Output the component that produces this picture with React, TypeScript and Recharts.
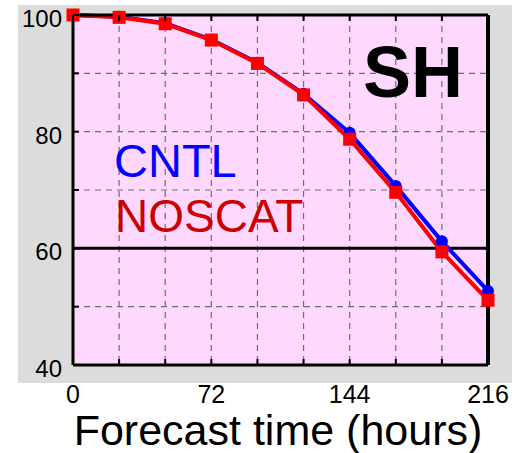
import React from 'react';
import { LineChart, Line, XAxis, YAxis, CartesianGrid, ReferenceLine } from 'recharts';

const hours = [0, 24, 48, 72, 96, 120, 144, 168, 192, 216];
const cntl = [100, 99.7, 98.6, 95.8, 91.8, 86.5, 79.8, 70.7, 61.2, 52.7];
const noscat = [100, 99.6, 98.5, 95.7, 91.7, 86.3, 78.7, 69.6, 59.4, 51.1];
const xTicks = [0, 24, 48, 72, 96, 120, 144, 168, 192, 216];
const xLabels = [0, 72, 144, 216];
const yTicks = [40, 50, 60, 70, 80, 90, 100];
const yLabels = [40, 60, 80, 100];

const data = hours.map((h, i) => ({ hour: h, CNTL: cntl[i], NOSCAT: noscat[i] }));

const font = '"Liberation Sans", Arial, sans-serif';

const BottomTick = (props: any) => {
    const { x, y, payload } = props;
    return (
        <g>
            <line x1={x} y1={y} x2={x} y2={y - 6} stroke="#000" strokeWidth={2} />
            {xLabels.includes(payload.value) && (
                <text x={x} y={y + 38} textAnchor="middle" fontSize={25} fontFamily={font} fill="#000">
                    {payload.value}
                </text>
            )}
        </g>
    );
};

const TopTick = (props: any) => {
    const { x, y } = props;
    return <line x1={x} y1={y} x2={x} y2={y + 6} stroke="#000" strokeWidth={2} />;
};

const LeftTick = (props: any) => {
    const { x, y, payload } = props;
    return (
        <g>
            <line x1={x} y1={y} x2={x + 6} y2={y} stroke="#000" strokeWidth={2} />
            {yLabels.includes(payload.value) && (
                <text x={x - 11} y={y + 12} textAnchor="end" fontSize={24} fontFamily={font} fill="#000">
                    {payload.value}
                </text>
            )}
        </g>
    );
};

const RightTick = (props: any) => {
    const { x, y } = props;
    return <line x1={x} y1={y} x2={x - 6} y2={y} stroke="#000" strokeWidth={2} />;
};

const SquareDot = (props: any) => {
    const { cx, cy, index } = props;
    return <rect key={`sq-${index}`} x={cx - 6.5} y={cy - 6.5} width={13} height={13} fill="#ff0000" />;
};

const CircleDot = (props: any) => {
    const { cx, cy, index } = props;
    return <circle key={`ci-${index}`} cx={cx} cy={cy} r={6} fill="#0000ff" />;
};

const App = () => {
    return (
        <div style={{ position: 'absolute', left: 0, top: 0, width: 512, height: 453, background: '#fff' }}>
            <div style={{ position: 'absolute', left: 18, top: 5, width: 494, height: 378, background: '#dcdcdc' }} />
            <div style={{ position: 'absolute', left: 0, top: 0 }}>
                <LineChart width={512} height={453} data={data} margin={{ top: 0, right: 0, bottom: 0, left: 0 }}>
                    <CartesianGrid
                        xAxisId="b"
                        yAxisId="l"
                        fill="#ffd8ff"
                        fillOpacity={1}
                        stroke="#6e6e6e"
                        strokeDasharray="6 5"
                        strokeWidth={1.2}
                    />
                    <XAxis
                        xAxisId="b"
                        dataKey="hour"
                        type="number"
                        domain={[0, 216]}
                        ticks={xTicks}
                        orientation="bottom"
                        height={88}
                        tickSize={0}
                        tickMargin={0}
                        tick={<BottomTick />}
                        axisLine={{ stroke: '#000', strokeWidth: 3 }}
                        interval={0}
                    />
                    <XAxis
                        xAxisId="t"
                        dataKey="hour"
                        type="number"
                        domain={[0, 216]}
                        ticks={xTicks}
                        orientation="top"
                        height={15}
                        tickSize={0}
                        tickMargin={0}
                        tick={<TopTick />}
                        axisLine={{ stroke: '#000', strokeWidth: 3 }}
                        interval={0}
                    />
                    <YAxis
                        yAxisId="l"
                        type="number"
                        domain={[40, 100]}
                        ticks={yTicks}
                        orientation="left"
                        width={73}
                        tickSize={0}
                        tickMargin={0}
                        tick={<LeftTick />}
                        axisLine={{ stroke: '#000', strokeWidth: 3 }}
                        interval={0}
                    />
                    <YAxis
                        yAxisId="r"
                        type="number"
                        domain={[40, 100]}
                        ticks={yTicks}
                        orientation="right"
                        width={24}
                        tickSize={0}
                        tickMargin={0}
                        tick={<RightTick />}
                        axisLine={{ stroke: '#000', strokeWidth: 4 }}
                        interval={0}
                    />
                    <ReferenceLine xAxisId="b" yAxisId="l" y={60} stroke="#000" strokeWidth={3} />
                    <Line
                        xAxisId="b"
                        yAxisId="l"
                        dataKey="CNTL"
                        type="linear"
                        stroke="#0000ff"
                        strokeWidth={4}
                        dot={<CircleDot />}
                        activeDot={false}
                        isAnimationActive={false}
                    />
                    <Line
                        xAxisId="b"
                        yAxisId="l"
                        dataKey="NOSCAT"
                        type="linear"
                        stroke="#ff0000"
                        strokeWidth={4}
                        dot={<SquareDot />}
                        activeDot={false}
                        isAnimationActive={false}
                    />
                </LineChart>
            </div>
            <svg width={512} height={453} style={{ position: 'absolute', left: 0, top: 0, pointerEvents: 'none' }}>
                <text x={413} y={97} textAnchor="middle" fontSize={72} fontWeight="bold" fontFamily={font} fill="#000">SH</text>
                <text x={114} y={177} fontSize={47} fontFamily={font} fill="#0000ff">CNTL</text>
                <text x={115} y={232} fontSize={46} fontFamily={font} fill="#cc0000">NOSCAT</text>
                <text x={278} y={445} textAnchor="middle" fontSize={43} fontFamily={font} fill="#000">Forecast time (hours)</text>
            </svg>
        </div>
    );
};

export default App;
